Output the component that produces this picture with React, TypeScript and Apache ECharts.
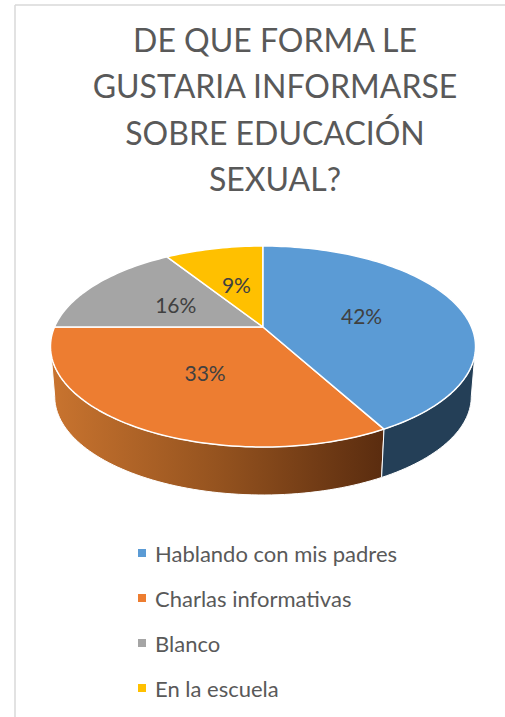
import React, { useEffect, useRef } from "react";
import * as echarts from "echarts";

const titleLines = ["DE QUE FORMA LE", "GUSTARIA INFORMARSE", "SOBRE EDUCACIÓN", "SEXUAL?"];
const categories = ["Hablando con mis padres", "Charlas informativas", "Blanco", "En la escuela"];
const values = [42, 33, 16, 9];
const topColors = ["#5b9bd5", "#ed7d31", "#a5a5a5", "#ffc000"];

const FONT = "Lato, 'Open Sans', sans-serif";
const apexX = 263, apexY = 327, radX = 208.5, radY = 96.7, persp = 0.194;
const wallDrop = 50.4, wallScale = 0.98;
const total = values.reduce((a, b) => a + b, 0);

const project = (deg: number, r: number, drop = 0, scale = 1) => {
  const t = (deg * Math.PI) / 180;
  const x = Math.sin(t) * r;
  const y = Math.cos(t) * r;
  const d = 1 + persp * y;
  return [apexX + (radX * scale * x) / d, apexY + drop - (radY * scale * y) / d];
};

const arc = (a: number, b: number, drop = 0, scale = 1) => {
  const pts: number[][] = [];
  const n = Math.max(2, Math.ceil(Math.abs(b - a) / 1.5));
  for (let i = 0; i <= n; i++) pts.push(project(a + ((b - a) * i) / n, 1, drop, scale));
  return pts;
};
const toPath = (pts: number[][], close = true) =>
  "M" + pts.map((p) => p[0].toFixed(2) + " " + p[1].toFixed(2)).join("L") + (close ? "Z" : "");

const wallFrom = (Math.acos(-persp) * 180) / Math.PI;
const wallTo = 360 - wallFrom;

const wallFill = (i: number) =>
  i === 0
    ? "#243f57"
    : new echarts.graphic.LinearGradient(0, 0, 1, 0, [
        { offset: 0, color: "#c9742f" },
        { offset: 0.5, color: "#95531f" },
        { offset: 1, color: "#5a2c0f" },
      ]);

export default function App() {
  const ref = useRef<HTMLDivElement>(null);
  useEffect(() => {
    document.body.style.margin = "0";
    const chart = echarts.init(ref.current!, undefined, { renderer: "svg" });
    const series = categories.map((name, i) => ({
      type: "custom",
      name,
      coordinateSystem: "none",
      z: i === 0 ? 3 : 2,
      itemStyle: { color: topColors[i] },
      data: [{ name, value: values[i] }],
      renderItem: () => {
        const before = values.slice(0, i).reduce((a, b) => a + b, 0);
        const a0 = (before / total) * 360;
        const a1 = ((before + values[i]) / total) * 360;
        const children: any[] = [];
        const w0 = Math.max(a0, wallFrom);
        const w1 = Math.min(a1, wallTo);
        if (w1 > w0) {
          const pts = [...arc(w0, w1), ...arc(w1, w0, wallDrop, wallScale)];
          children.push({
            type: "path",
            shape: { pathData: toPath(pts) },
            style: { fill: wallFill(i), stroke: "#ffffff", lineWidth: 1 },
          });
        }
        const mid = (a0 + a1) / 2;
        const c = project(mid, 0.5);
        children.push({
          type: "path",
          shape: { pathData: toPath([[apexX, apexY], ...arc(a0, a1)]) },
          style: { fill: topColors[i], stroke: "#ffffff", lineWidth: 1.5, lineJoin: "round" },
        });
        children.push({
          type: "text",
          x: c[0],
          y: c[1],
          z2: 10,
          style: {
            text: `${Math.round((values[i] / total) * 100)}%`,
            fill: "#404040",
            font: `21px ${FONT}`,
            textAlign: "center",
            textVerticalAlign: "middle",
          },
        });
        return { type: "group", children };
      },
    }));
    chart.setOption({
      animation: false,
      backgroundColor: "#ffffff",
      title: {
        text: titleLines.join("\n"),
        left: 270,
        top: 11,
        textAlign: "center",
        textStyle: {
          fontFamily: FONT,
          fontWeight: "normal",
          fontSize: 32,
          lineHeight: 46.5,
          color: "#595959",
        },
      },
      legend: {
        orient: "vertical",
        left: 133,
        top: 537,
        icon: "rect",
        itemWidth: 8,
        itemHeight: 8,
        itemGap: 23,
        selectedMode: false,
        data: categories,
        textStyle: {
          fontFamily: FONT,
          fontSize: 22,
          lineHeight: 22,
          color: "#595959",
          padding: [0, 0, 0, 4],
        },
      },
      graphic: [
        { type: "line", silent: true, shape: { x1: 15, y1: 5, x2: 505, y2: 5 }, style: { stroke: "#d9d9d9", lineWidth: 1.5 } },
        { type: "line", silent: true, shape: { x1: 15, y1: 5, x2: 15, y2: 717 }, style: { stroke: "#d9d9d9", lineWidth: 1.5 } },
      ],
      series,
    });
    return () => chart.dispose();
  }, []);
  return <div ref={ref} style={{ width: 505, height: 717 }} />;
}
